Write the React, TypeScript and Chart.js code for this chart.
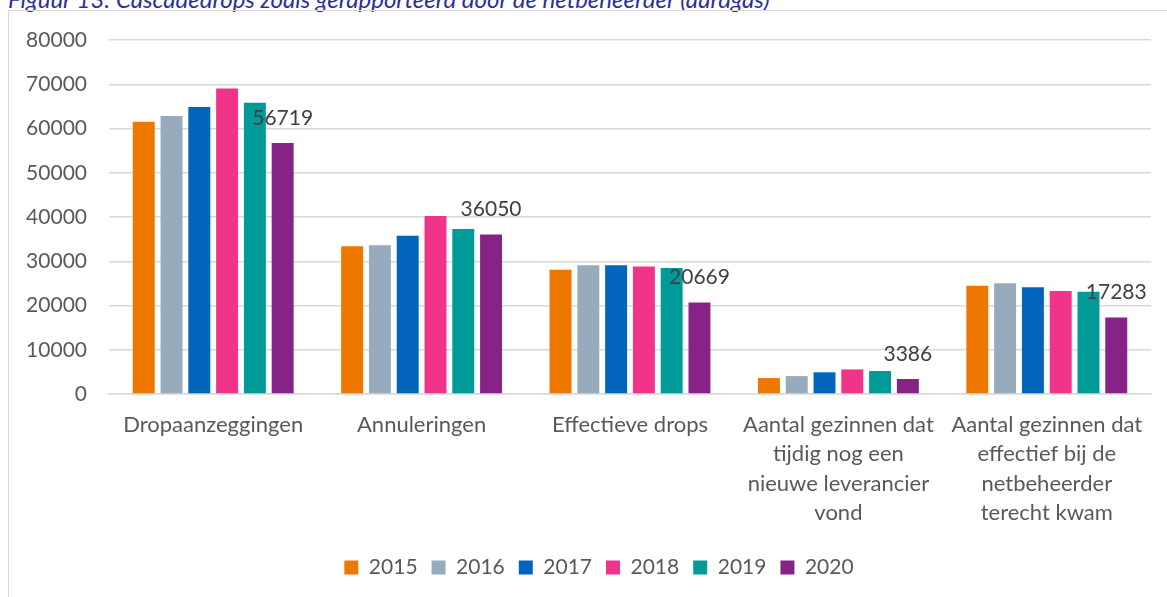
import React, { useEffect, useRef } from "react";
import { Chart, registerables } from "chart.js";

Chart.register(...registerables);

const categories: (string | string[])[] = [
  "Dropaanzeggingen",
  "Annuleringen",
  "Effectieve drops",
  ["Aantal gezinnen dat", "tijdig nog een", "nieuwe leverancier", "vond"],
  ["Aantal gezinnen dat", "effectief bij de", "netbeheerder", "terecht kwam"],
];
const years = ["2015", "2016", "2017", "2018", "2019", "2020"];
const v2015 = [61500, 33400, 28100, 3600, 24450];
const v2016 = [62800, 33600, 29100, 4050, 25050];
const v2017 = [64850, 35750, 29100, 4900, 24150];
const v2018 = [69050, 40200, 28800, 5550, 23300];
const v2019 = [65800, 37300, 28500, 5200, 23100];
const v2020 = [56719, 36050, 20669, 3386, 17283];
const seriesValues = [v2015, v2016, v2017, v2018, v2019, v2020];
const colors = ["#EE7700", "#98ABBC", "#0065BB", "#EF3489", "#009A98", "#872286"];
const yMax = 80000;
const yStep = 10000;
const labelledSeries = 5;

const FONT = "Lato, 'Open Sans', sans-serif";

const valueLabelPlugin = {
  id: "valueLabels",
  afterDatasetsDraw(chart: any) {
    const meta = chart.getDatasetMeta(labelledSeries);
    const data = chart.data.datasets[labelledSeries].data;
    const ctx = chart.ctx;
    ctx.save();
    ctx.font = `21px ${FONT}`;
    ctx.fillStyle = "#404040";
    ctx.textAlign = "center";
    ctx.textBaseline = "middle";
    meta.data.forEach((el: any, i: number) => {
      ctx.fillText(String(data[i]), el.x, el.y - 25);
    });
    ctx.restore();
  },
};

export default function App() {
  const ref = useRef<HTMLCanvasElement | null>(null);

  useEffect(() => {
    if (!ref.current) return;
    const chart = new Chart(ref.current, {
      type: "bar",
      data: {
        labels: categories as any,
        datasets: years.map((y, i) => ({
          label: y,
          data: seriesValues[i],
          backgroundColor: colors[i],
          borderWidth: 0,
          categoryPercentage: 0.8,
          barPercentage: 0.79,
          yAxisID: "y",
        })),
      },
      options: {
        animation: false,
        responsive: false,
        maintainAspectRatio: false,
        layout: { padding: { top: 29, right: 0, left: 0, bottom: 9 } },
        plugins: {
          title: { display: false },
          tooltip: { enabled: false },
          legend: {
            display: true,
            position: "bottom",
            labels: {
              boxWidth: 14,
              boxHeight: 14,
              padding: 14,
              color: "#595959",
              font: { family: FONT, size: 21 },
            },
          },
        },
        scales: {
          x: {
            grid: { display: false, drawTicks: false },
            border: { display: true, color: "#D9D9D9", width: 1.5 },
            ticks: {
              color: "#595959",
              font: { family: FONT, size: 22, lineHeight: 1.34 },
              padding: 16,
              maxRotation: 0,
              autoSkip: false,
            },
            afterFit: (s: any) => {
              s.height = 149;
            },
          },
          y: {
            min: 0,
            max: yMax,
            grid: { color: "#D9D9D9", lineWidth: 1.5, drawTicks: false },
            border: { display: false },
            ticks: {
              stepSize: yStep,
              color: "#595959",
              font: { family: FONT, size: 21 },
              padding: 22,
              callback: (v: any) => String(v),
            },
            afterFit: (s: any) => {
              s.width = 100;
              s.paddingTop = 12;
              s.paddingBottom = 12;
            },
          },
          yRightSpace: {
            type: "linear",
            position: "right",
            display: true,
            grid: { display: false, drawTicks: false },
            border: { display: false },
            ticks: { display: false },
            afterFit: (s: any) => {
              s.width = 38;
              s.paddingTop = 0;
              s.paddingBottom = 0;
            },
          },
        },
      },
      plugins: [valueLabelPlugin],
    });
    return () => chart.destroy();
  }, []);

  return (
    <div
      style={{
        position: "fixed",
        left: 0,
        top: 0,
        width: "100vw",
        height: "100vh",
        overflow: "hidden",
        background: "#fff",
      }}
    >
      <div
        style={{
          position: "absolute",
          left: 8,
          top: -13,
          fontFamily: FONT,
          fontStyle: "italic",
          fontSize: 24,
          lineHeight: "24px",
          color: "#2E2E9A",
          whiteSpace: "nowrap",
        }}
      >
        Figuur 13: Cascadedrops zoals gerapporteerd door de netbeheerder (aardgas)
      </div>
      <div
        style={{
          position: "absolute",
          left: 8,
          top: 10,
          width: 1200,
          height: 700,
          border: "1px solid #D9D9D9",
          boxSizing: "border-box",
        }}
      />
      <canvas
        ref={ref}
        width={1180}
        height={586}
        style={{ position: "absolute", left: 9, top: 11, width: 1180, height: 586 }}
      />
    </div>
  );
}
